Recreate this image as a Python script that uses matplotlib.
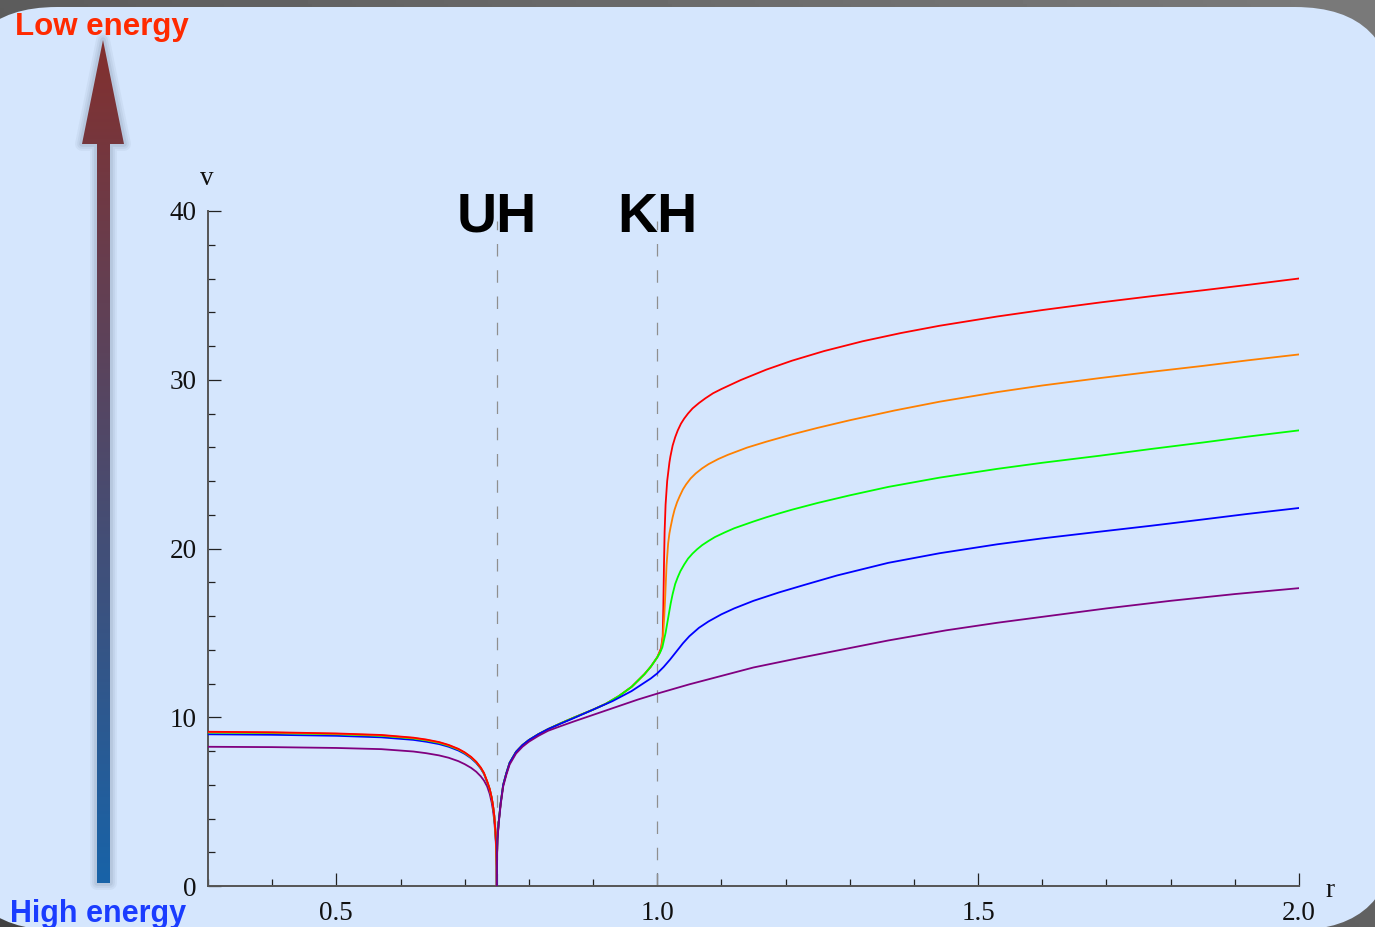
import numpy as np
import matplotlib
matplotlib.use("Agg")
import matplotlib.pyplot as plt
from matplotlib.patches import FancyBboxPatch, Polygon
from matplotlib.ticker import MultipleLocator, FormatStrFormatter

# ---------------------------------------------------------------- data
UH_R = 0.75   # inner (Cauchy) horizon
KH_R = 1.0    # outer (Killing) horizon
horizon_labels = ["UH", "KH"]

# inside the inner horizon
r_inner = [0.30, 0.40, 0.50, 0.57, 0.62, 0.64, 0.66, 0.675, 0.69, 0.70, 0.71,
           0.718, 0.725, 0.73, 0.735, 0.739, 0.742, 0.744, 0.746, 0.748,
           0.7493, 0.7498, 0.75]
v_inner_red = [9.14, 9.11, 9.04, 8.95, 8.79, 8.68, 8.53, 8.36, 8.13, 7.92, 7.65,
               7.36, 7.02, 6.70, 6.20, 5.75, 5.25, 4.80, 4.20, 3.20,
               2.10, 1.20, 0.0]
v_inner_orange = [9.12, 9.09, 9.02, 8.93, 8.77, 8.66, 8.51, 8.34, 8.11, 7.90, 7.63,
                  7.35, 7.01, 6.69, 6.19, 5.74, 5.24, 4.79, 4.19, 3.19,
                  2.09, 1.19, 0.0]
v_inner_green = [9.09, 9.06, 8.99, 8.90, 8.74, 8.63, 8.48, 8.31, 8.09, 7.88, 7.61,
                 7.33, 6.99, 6.67, 6.18, 5.73, 5.23, 4.78, 4.18, 3.18,
                 2.08, 1.18, 0.0]
v_inner_blue = [8.99, 8.96, 8.90, 8.81, 8.66, 8.55, 8.41, 8.25, 8.03, 7.83, 7.57,
                7.29, 6.96, 6.64, 6.15, 5.71, 5.21, 4.76, 4.16, 3.16,
                2.06, 1.16, 0.0]
v_inner_purple = [8.25, 8.23, 8.18, 8.11, 7.97, 7.87, 7.74, 7.60, 7.40, 7.22, 7.00,
                  6.77, 6.50, 6.25, 5.90, 5.45, 4.95, 4.50, 3.90, 2.95,
                  1.95, 1.10, 0.0]

# outside the inner horizon, shared part of the three upper curves
r_near = [0.75, 0.7502, 0.751, 0.753, 0.756, 0.76, 0.765, 0.77, 0.78, 0.79,
          0.80, 0.815, 0.83, 0.85, 0.87, 0.90, 0.92, 0.94, 0.96, 0.98, 0.99, 1.0]
v_near = [0.0, 1.6, 2.8, 3.8, 4.9, 6.0, 6.7, 7.3, 7.95, 8.35,
          8.65, 9.0, 9.3, 9.65, 9.98, 10.45, 10.8, 11.25, 11.8, 12.55, 13.0, 13.55]

r_red_out = [1.006, 1.0085, 1.0095, 1.0105, 1.0115, 1.013, 1.0155, 1.019,
             1.0205, 1.024, 1.028, 1.032, 1.037, 1.042, 1.048, 1.055, 1.065,
             1.075, 1.087, 1.10, 1.13, 1.17, 1.21, 1.26, 1.32, 1.38, 1.44,
             1.53, 1.60, 1.69, 1.77, 1.85, 1.92, 2.0]
v_red_out = [14.1, 14.8, 16.5, 19.0, 21.0, 22.6, 24.0, 25.1,
             25.45, 26.1, 26.6, 27.0, 27.4, 27.7, 28.0, 28.3, 28.62,
             28.9, 29.2, 29.45, 29.98, 30.6, 31.13, 31.7, 32.28, 32.77, 33.2,
             33.75, 34.13, 34.58, 34.95, 35.3, 35.62, 36.0]

r_orange_out = [1.006, 1.009, 1.011, 1.0125, 1.0145, 1.017, 1.019, 1.021,
                1.024, 1.027, 1.031, 1.035, 1.04, 1.045, 1.052, 1.06, 1.07,
                1.08, 1.095, 1.11, 1.14, 1.17, 1.21, 1.25, 1.30, 1.37, 1.44,
                1.53, 1.60, 1.69, 1.77, 1.85, 1.92, 2.0]
v_orange_out = [14.0, 14.8, 16.0, 17.2, 19.0, 20.3, 20.9, 21.3,
                21.85, 22.3, 22.75, 23.1, 23.5, 23.8, 24.15, 24.45, 24.75,
                25.0, 25.3, 25.55, 25.98, 26.33, 26.76, 27.15, 27.6, 28.18, 28.7,
                29.27, 29.66, 30.1, 30.47, 30.82, 31.15, 31.5]

r_green_out = [1.004, 1.008, 1.013, 1.018, 1.021, 1.024, 1.028, 1.032, 1.036,
               1.042, 1.048, 1.055, 1.062, 1.07, 1.08, 1.09, 1.105, 1.12, 1.135,
               1.15, 1.17, 1.19, 1.21, 1.25, 1.30, 1.36, 1.44, 1.53, 1.60,
               1.69, 1.77, 1.85, 1.92, 2.0]
v_green_out = [13.8, 14.15, 15.0, 16.1, 16.75, 17.3, 17.9, 18.3, 18.65,
               19.05, 19.4, 19.7, 19.95, 20.2, 20.45, 20.68, 20.95, 21.2, 21.4,
               21.6, 21.85, 22.08, 22.3, 22.7, 23.15, 23.65, 24.2, 24.72, 25.08,
               25.5, 25.9, 26.28, 26.63, 27.0]

r_blue_out = [0.75, 0.7502, 0.751, 0.753, 0.756, 0.76, 0.765, 0.77, 0.78,
              0.79, 0.80, 0.815, 0.83, 0.85, 0.87, 0.90, 0.93, 0.96, 0.98,
              0.99, 1.0, 1.01, 1.02, 1.03, 1.04, 1.05, 1.065, 1.08, 1.10,
              1.12, 1.15, 1.19, 1.23, 1.28, 1.36, 1.44, 1.53, 1.60, 1.69,
              1.77, 1.85, 1.92, 2.0]
v_blue_out = [0.0, 1.6, 2.8, 3.8, 4.9, 6.0, 6.7, 7.3, 7.95,
              8.35, 8.65, 9.0, 9.3, 9.63, 9.95, 10.45, 10.95, 11.55, 12.05,
              12.3, 12.6, 12.98, 13.42, 13.9, 14.38, 14.8, 15.3, 15.68, 16.1,
              16.45, 16.9, 17.4, 17.85, 18.4, 19.15, 19.72, 20.25, 20.6, 21.0,
              21.35, 21.72, 22.05, 22.4]

r_purple_out = [0.75, 0.7502, 0.751, 0.753, 0.756, 0.76, 0.765, 0.77, 0.78,
                0.79, 0.80, 0.815, 0.83, 0.85, 0.87, 0.92, 0.97, 1.0, 1.05,
                1.1, 1.15, 1.22, 1.3, 1.36, 1.45, 1.53, 1.6, 1.7, 1.8, 1.9, 2.0]
v_purple_out = [0.0, 1.5, 2.7, 3.7, 4.8, 5.9, 6.6, 7.2, 7.85,
                8.25, 8.55, 8.9, 9.2, 9.48, 9.75, 10.4, 11.05, 11.4, 11.95,
                12.45, 12.95, 13.5, 14.1, 14.55, 15.15, 15.6, 15.95, 16.45,
                16.9, 17.3, 17.65]

x_ticks = [0.5, 1.0, 1.5, 2.0]
y_ticks = [0, 10, 20, 30, 40]

# ---------------------------------------------------------------- figure
W, H = 1375, 927
fig = plt.figure(figsize=(W / 100, H / 100), dpi=100)

# slide backdrop: grey frame with a rounded light-blue panel
bg = fig.add_axes([0, 0, 1, 1])
bg.set_xlim(0, W)
bg.set_ylim(H, 0)
bg.axis("off")
yy, xx = np.mgrid[0:H:4, 0:W:4]
shade = 0.36 + 0.12 * (xx / W) - 0.10 * (yy / H)
bg.imshow(shade, cmap="gray", vmin=0, vmax=1, extent=[0, W, H, 0],
          aspect="auto", zorder=0)
panel = FancyBboxPatch((-43, 7), 1438, 923,
                       boxstyle="round,pad=0,rounding_size=100",
                       facecolor="#d5e6fd", edgecolor="none", zorder=1)
bg.add_patch(panel)

# energy arrow with a colour gradient and a soft shadow
arrow_pts = [(97, 883), (110, 883), (110, 144), (124, 144), (103, 40),
             (82, 144), (97, 144)]
for lw_s, a in [(10, 0.05), (7, 0.06), (4, 0.08)]:
    bg.add_patch(Polygon(arrow_pts, closed=True, facecolor="none",
                         edgecolor="#2c3c58", lw=lw_s, alpha=a,
                         joinstyle="round", zorder=2))
top_c = np.array([131, 48, 46]) / 255
bot_c = np.array([24, 99, 168]) / 255
t = np.linspace(0, 1, 256)[:, None]
grad = (top_c[None, :] * (1 - t) + bot_c[None, :] * t)[:, None, :]
img = bg.imshow(grad, extent=[82, 124, 883, 40], aspect="auto", zorder=3)
clip = Polygon(arrow_pts, closed=True, transform=bg.transData)
img.set_clip_path(clip)

bg.text(15, 35, "Low energy", color="#ff2a00", fontsize=22.5,
        fontweight="bold", family="Liberation Sans", va="baseline",
        ha="left", zorder=4)
bg.text(10, 922, "High energy", color="#1a3cff", fontsize=22,
        fontweight="bold", family="Liberation Sans", va="baseline",
        ha="left", zorder=4)

# ---------------------------------------------------------------- plot
ax = fig.add_axes([208 / W, (H - 886) / H, (1299 - 208) / W, (886 - 211) / H])
ax.patch.set_alpha(0)
ax.set_xlim(0.3, 2.0)
ax.set_ylim(0, 40)

lw = 1.3
# inner branches (red on top)
ax.plot(r_inner, v_inner_purple, color="#800080", lw=lw, zorder=3)
ax.plot(r_inner, v_inner_blue, color="#0000ff", lw=lw, zorder=3)
ax.plot(r_inner, v_inner_green, color="#00ff00", lw=lw, zorder=3)
ax.plot(r_inner, v_inner_orange, color="#ff8000", lw=lw, zorder=3)
ax.plot(r_inner, v_inner_red, color="#ff0000", lw=lw, zorder=3)
# outer branches (purple on top)
ax.plot(r_near + r_red_out, v_near + v_red_out, color="#ff0000", lw=lw, zorder=3)
ax.plot(r_near + r_orange_out, v_near + v_orange_out, color="#ff8000", lw=lw, zorder=3)
ax.plot(r_near + r_green_out, v_near + v_green_out, color="#00ff00", lw=lw, zorder=3)
ax.plot(r_blue_out, v_blue_out, color="#0000ff", lw=lw, zorder=3)
ax.plot(r_purple_out, v_purple_out, color="#800080", lw=lw, zorder=3)

# horizons
ax.vlines([UH_R, KH_R], 0, 39.4, colors="#8f8f8f", lw=0.9,
          linestyles=[(0, (10, 11))], zorder=2)
for xr, lab in zip([UH_R, KH_R], horizon_labels):
    ax.text(xr, 38.76, lab, ha="center", va="baseline", fontsize=40,
            fontweight="bold", family="Liberation Sans", color="black",
            zorder=4)

for s in ["top", "right"]:
    ax.spines[s].set_visible(False)
for s in ["left", "bottom"]:
    ax.spines[s].set_color("#555555")
    ax.spines[s].set_linewidth(1.4)

ax.set_xticks(x_ticks)
ax.set_yticks(y_ticks)
ax.xaxis.set_major_formatter(FormatStrFormatter("%.1f"))
ax.xaxis.set_minor_locator(MultipleLocator(0.1))
ax.yaxis.set_minor_locator(MultipleLocator(2))
ax.tick_params(which="major", direction="in", length=9.5, width=0.9,
               color="#222222", labelsize=19.5, pad=8)
ax.tick_params(which="minor", direction="in", length=5, width=0.9,
               color="#222222")
ax.tick_params(axis="x", which="major", pad=11)
for lbl in ax.get_xticklabels() + ax.get_yticklabels():
    lbl.set_family("Liberation Serif")
    lbl.set_color("#111111")

fig.text(207 / W, 1 - 185 / H, "v", ha="center", va="baseline",
         fontsize=19.5, family="Liberation Serif", color="#111111")
fig.text(1330 / W, 1 - 897 / H, "r", ha="center", va="baseline",
         fontsize=19.5, family="Liberation Serif", color="#111111")

fig.savefig("out.png", dpi=100)
